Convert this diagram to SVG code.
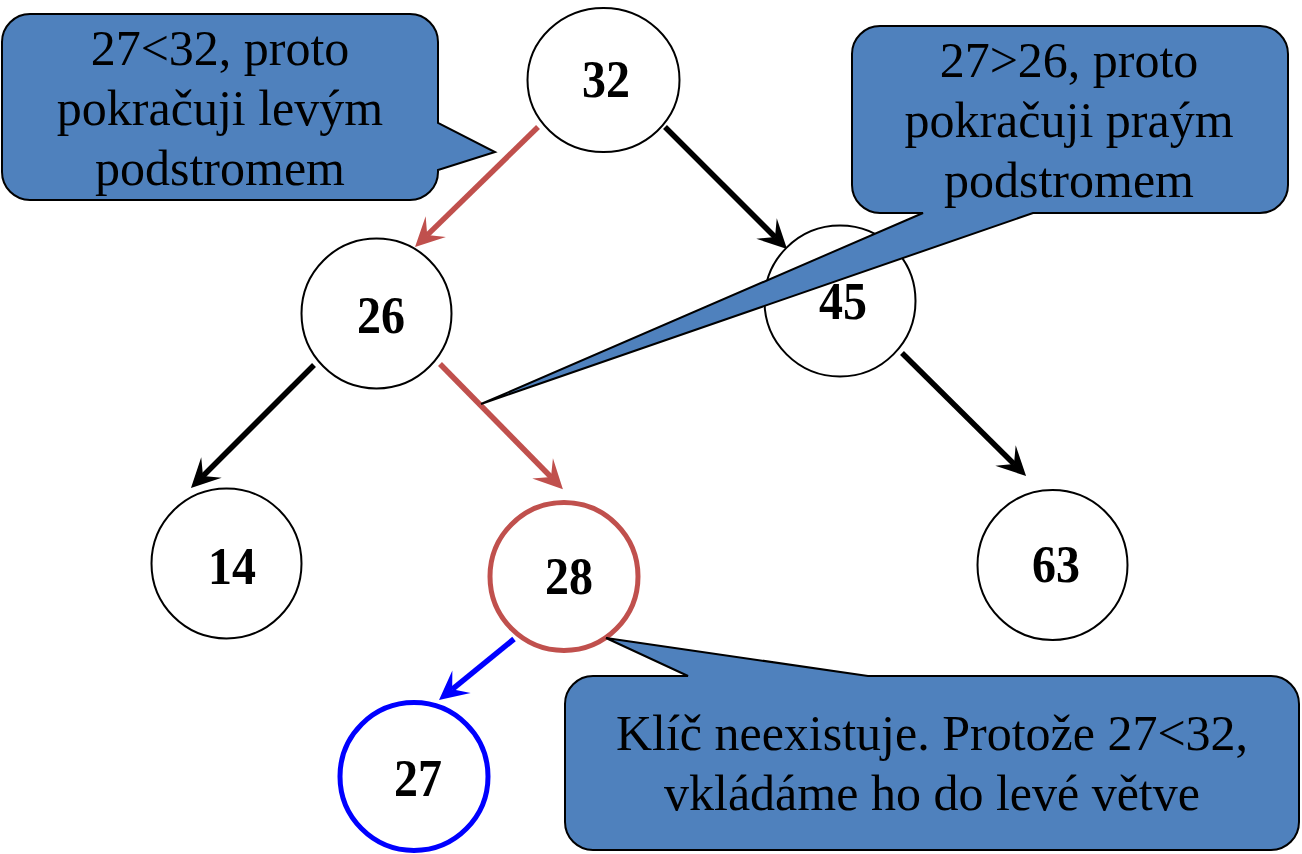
<svg xmlns="http://www.w3.org/2000/svg" width="1302" height="854" viewBox="0 0 1302 854">
<style>
.node{fill:#ffffff;stroke:#000000;stroke-width:2}
.nt{font-family:"Liberation Serif","Times New Roman",serif;font-weight:bold;font-size:53px;text-anchor:middle;fill:#000}
.ct{font-family:"Liberation Serif","Times New Roman",serif;font-size:50px;text-anchor:middle;fill:#000}
.call{fill:#4f81bd;stroke:#000;stroke-width:2;stroke-linejoin:miter}
</style>
<defs>
<marker id="ak" markerUnits="userSpaceOnUse" markerWidth="40" markerHeight="40" refX="0" refY="0" orient="auto" overflow="visible"><path d="M17,0 L-12,-14.5 L0,0 L-12,14.5 Z" fill="#000"/></marker>
<marker id="ar" markerUnits="userSpaceOnUse" markerWidth="40" markerHeight="40" refX="0" refY="0" orient="auto" overflow="visible"><path d="M17,0 L-12,-14.5 L0,0 L-12,14.5 Z" fill="#c0504d"/></marker>
<marker id="ab" markerUnits="userSpaceOnUse" markerWidth="40" markerHeight="40" refX="0" refY="0" orient="auto" overflow="visible"><path d="M17,0 L-12,-14.5 L0,0 L-12,14.5 Z" fill="#0000ff"/></marker>
</defs>
<g id="connectors" fill="none" stroke-width="5.5">
<line stroke="#c0504d" x1="538" y1="127" x2="427.2" y2="235.1" marker-end="url(#ar)"/>
<line stroke="#000000" x1="665" y1="127" x2="775" y2="237" marker-end="url(#ak)"/>
<line stroke="#000000" x1="314" y1="365" x2="203" y2="476" marker-end="url(#ak)"/>
<line stroke="#c0504d" x1="440" y1="364" x2="551" y2="477" marker-end="url(#ar)"/>
<line stroke="#000000" x1="902" y1="353" x2="1014" y2="464" marker-end="url(#ak)"/>
<line stroke="#0000ff" x1="514" y1="639" x2="452.2" y2="689.3" marker-end="url(#ab)"/>
</g>
<g id="n32"><ellipse class="node" cx="603.5" cy="80" rx="76" ry="72"/><text class="nt" x="606" y="97" textLength="48" lengthAdjust="spacingAndGlyphs">32</text></g>
<g id="n26"><ellipse class="node" cx="376.5" cy="313.5" rx="75" ry="75"/><text class="nt" x="381" y="333" textLength="48" lengthAdjust="spacingAndGlyphs">26</text></g>
<g id="n45"><ellipse class="node" cx="840" cy="301" rx="75.5" ry="75.5"/><text class="nt" x="843" y="319" textLength="48" lengthAdjust="spacingAndGlyphs">45</text></g>
<g id="n14"><ellipse class="node" cx="226.5" cy="563.5" rx="75" ry="75"/><text class="nt" x="232" y="584" textLength="48" lengthAdjust="spacingAndGlyphs">14</text></g>
<g id="n28"><ellipse class="node" cx="564" cy="576.5" rx="74" ry="74" style="stroke:#c0504d;stroke-width:5"/><text class="nt" x="569" y="594" textLength="48" lengthAdjust="spacingAndGlyphs">28</text></g>
<g id="n63"><ellipse class="node" cx="1052.5" cy="565" rx="75" ry="75"/><text class="nt" x="1056" y="582" textLength="48" lengthAdjust="spacingAndGlyphs">63</text></g>
<g id="n27"><ellipse class="node" cx="414" cy="776.5" rx="74" ry="74" style="stroke:#0000ff;stroke-width:5"/><text class="nt" x="418" y="796" textLength="48" lengthAdjust="spacingAndGlyphs">27</text></g>
<g id="callout1">
<path class="call" d="M30,14 H410 A28,28 0 0 1 438,42 V123 L495,152 L438,170 V172 A28,28 0 0 1 410,200 H30 A28,28 0 0 1 2,172 V42 A28,28 0 0 1 30,14 Z"/>
<text class="ct" x="220" y="65">27&lt;32, proto</text>
<text class="ct" x="220" y="125">pokračuji levým</text>
<text class="ct" x="220" y="185">podstromem</text>
</g>
<g id="callout2">
<path class="call" d="M880,26 H1260 A28,28 0 0 1 1288,54 V185 A28,28 0 0 1 1260,213 H1033 L481,404 L923,213 H880 A28,28 0 0 1 852,185 V54 A28,28 0 0 1 880,26 Z"/>
<text class="ct" x="1069" y="77">27&gt;26, proto</text>
<text class="ct" x="1069" y="137">pokračuji praým</text>
<text class="ct" x="1069" y="197">podstromem</text>
</g>
<g id="callout3">
<path class="call" d="M593,676 H688 L606,638 L868,676 H1271 A28,28 0 0 1 1299,704 V822 A28,28 0 0 1 1271,850 H593 A28,28 0 0 1 565,822 V704 A28,28 0 0 1 593,676 Z"/>
<text class="ct" x="932" y="750">Klíč neexistuje. Protože 27&lt;32,</text>
<text class="ct" x="932" y="810">vkládáme ho do levé větve</text>
</g>
</svg>
